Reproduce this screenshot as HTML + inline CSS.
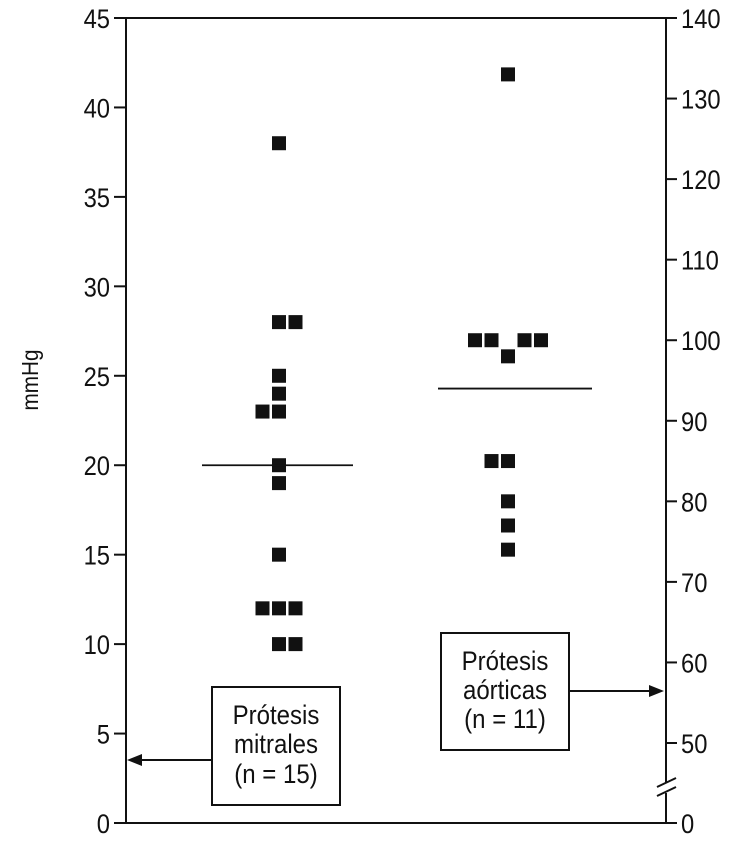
<!DOCTYPE html>
<html><head><meta charset="utf-8"><style>
body{margin:0;background:#fff}
svg text{font-family:"Liberation Sans",sans-serif;fill:#111}
</style></head><body>
<svg width="730" height="847" viewBox="0 0 730 847">
<g id="frame"></g>
<g id="leftAxis"></g>
<g id="rightAxis"></g>
<g id="marks"></g>
<text font-size="23" text-anchor="middle" transform="translate(38 380) rotate(-90) scale(0.9 1)">mmHg</text>
<g>
<rect x="212" y="687" width="128" height="118" fill="#fff" stroke="#111" stroke-width="2"/>
<text font-size="27" text-anchor="middle" transform="translate(276 724) scale(0.89 1)">Prótesis</text>
<text font-size="27" text-anchor="middle" transform="translate(276 753) scale(0.89 1)">mitrales</text>
<text font-size="27" text-anchor="middle" transform="translate(276 783) scale(0.89 1)">(n = 15)</text>
<line x1="212" y1="760" x2="140" y2="760" stroke="#111" stroke-width="2"/>
<polygon points="127,760 142,754 142,766" fill="#111"/>
</g>
<g>
<rect x="441" y="633" width="128" height="117" fill="#fff" stroke="#111" stroke-width="2"/>
<text font-size="27" text-anchor="middle" transform="translate(505 670) scale(0.89 1)">Prótesis</text>
<text font-size="27" text-anchor="middle" transform="translate(505 699) scale(0.89 1)">aórticas</text>
<text font-size="27" text-anchor="middle" transform="translate(505 728) scale(0.89 1)">(n = 11)</text>
<line x1="569" y1="691" x2="650" y2="691" stroke="#111" stroke-width="2"/>
<polygon points="664,691 649,685 649,697" fill="#111"/>
</g>
</svg>
<script>
const leftTicks=[0,5,10,15,20,25,30,35,40,45];
const rightTicks=[50,60,70,80,90,100,110,120,130,140];
const mitralValues=[38,28,28,25,24,23,23,20,19,15,12,12,12,10,10];
const mitralSlots=[0,0,1,0,0,-1,0,0,0,0,-1,0,1,0,1];
const mitralMean=20;
const aorticValues=[133,100,100,100,100,98,85,85,80,77,74];
const aorticSlots=[0,-2,-1,1,2,0,-1,0,0,0,0];
const aorticMean=94;
const NS="http://www.w3.org/2000/svg";
const X0=126,X1=666,Y0=823,YT=18;
const yL=v=>Y0-(v/45)*(Y0-YT);
const yR=v=>743-(v-50)*(743-YT)/90;
function mk(t,a,p){const e=document.createElementNS(NS,t);for(const k in a)e.setAttribute(k,a[k]);(p||document.getElementById('marks')).appendChild(e);return e;}
const fr=document.getElementById('frame');
mk('path',{d:`M${X0} ${YT}H${X1}V${Y0}H${X0}Z`,fill:'none',stroke:'#111','stroke-width':2},fr);
const la=document.getElementById('leftAxis');
leftTicks.forEach(v=>{const y=yL(v);
const l=mk('line',{x1:114,x2:X0,y1:y,y2:y,stroke:'#111','stroke-width':2},la);

const t=mk('text',{'font-size':27,'text-anchor':'end',transform:`translate(110 ${y+10}) scale(0.88 1)`},la);t.textContent=v;
});
const ra=document.getElementById('rightAxis');
rightTicks.forEach(v=>{const y=yR(v);
const l=mk('line',{x1:X1,x2:X1+11,y1:y,y2:y,stroke:'#111','stroke-width':2},ra);

const t=mk('text',{'font-size':27,'text-anchor':'start',transform:`translate(681 ${y+10}) scale(0.88 1)`},ra);t.textContent=v;
});
const z=mk('text',{'font-size':27,transform:`translate(681 ${Y0+10}) scale(0.88 1)`},ra);z.textContent='0';

mk('line',{x1:X1,x2:X1+11,y1:Y0,y2:Y0,stroke:'#111','stroke-width':2},ra);
const br=mk('g',{},ra);
mk('rect',{x:X1-3,y:783,width:6,height:10,fill:'#fff'},br);
mk('line',{x1:657,y1:787,x2:676,y2:778,stroke:'#111','stroke-width':2},br);
mk('line',{x1:657,y1:796,x2:676,y2:787,stroke:'#111','stroke-width':2},br);
mitralValues.forEach((v,i)=>{const cx=279+mitralSlots[i]*16.5,cy=yL(v);
const r=mk('rect',{x:cx-7,y:cy-7,width:14,height:14,fill:'#111'});
});
aorticValues.forEach((v,i)=>{const cx=508+aorticSlots[i]*16.5,cy=yR(v);
const r=mk('rect',{x:cx-7,y:cy-7,width:14,height:14,fill:'#111'});
});
const m1=mk('line',{x1:202,x2:353,y1:yL(mitralMean),y2:yL(mitralMean),stroke:'#111','stroke-width':1.8});

const m2=mk('line',{x1:438,x2:592,y1:yR(aorticMean),y2:yR(aorticMean),stroke:'#111','stroke-width':1.8});

</script>
</body></html>
